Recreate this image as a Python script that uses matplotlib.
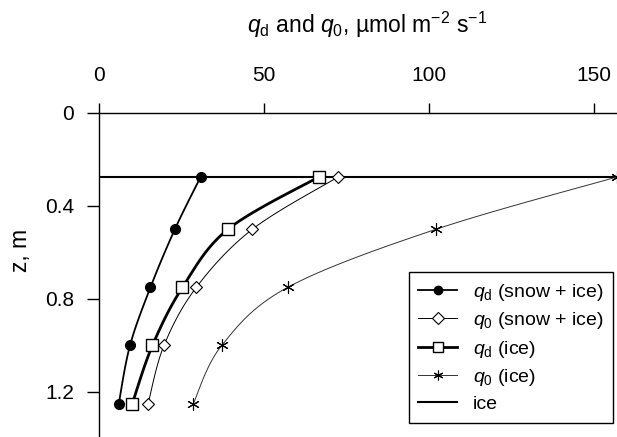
import numpy as np
import matplotlib
matplotlib.use("Agg")
import matplotlib.pyplot as plt

plt.rcParams['font.family'] = ['Liberation Sans', 'DejaVu Sans']
plt.rcParams['mathtext.fontset'] = 'custom'
plt.rcParams['mathtext.rm'] = 'Liberation Sans'
plt.rcParams['mathtext.it'] = 'Liberation Sans:italic'

# depths (m) and fluxes (umol m-2 s-1)
depth = [0.275, 0.5, 0.75, 1.0, 1.25]
qd_snow_ice = [30.8, 23.0, 15.6, 9.4, 6.0]
q0_snow_ice = [72.5, 46.5, 29.5, 19.7, 14.9]
qd_ice = [66.6, 39.1, 25.3, 16.2, 10.1]
q0_ice = [157.0, 102.2, 57.2, 37.2, 28.6]
ice_depth = 0.275

X_TICKS = [0, 50, 100, 150]
Y_TICKS = [0, 0.4, 0.8, 1.2]


def smooth(x, y, n=20):
    """Catmull-Rom curve through the points (like Excel's smoothed line).
    Data points land on indices 0, n, 2n, ..."""
    pts = np.column_stack([x, y]).astype(float)
    p = np.vstack([pts[0], pts, pts[-1]])
    t = np.linspace(0, 1, n, endpoint=False)[:, None]
    out = []
    for i in range(1, len(p) - 2):
        p0, p1, p2, p3 = p[i - 1], p[i], p[i + 1], p[i + 2]
        seg = 0.5 * (2 * p1 + (-p0 + p2) * t
                     + (2 * p0 - 5 * p1 + 4 * p2 - p3) * t ** 2
                     + (-p0 + 3 * p1 - 3 * p2 + p3) * t ** 3)
        out.append(seg)
    out.append(pts[-1:])
    c = np.vstack(out)
    return c[:, 0], c[:, 1], list(range(0, len(c), n))


fig = plt.figure(figsize=(6.17, 4.37), dpi=100)
ax = fig.add_axes([99 / 617, 0.0, 518 / 617, 324 / 437])

series = [
    (qd_snow_ice, dict(color='black', lw=1.3, marker='o', ms=7, mfc='black', mec='black'),
     r'$q_\mathrm{d}$ (snow + ice)'),
    (q0_snow_ice, dict(color='black', lw=0.7, marker='D', ms=6, mfc='white', mec='black', mew=0.8),
     r'$q_0$ (snow + ice)'),
    (qd_ice, dict(color='black', lw=2.0, marker='s', ms=9, mfc='white', mec='black', mew=1.0),
     r'$q_\mathrm{d}$ (ice)'),
    (q0_ice, dict(color='#333333', lw=0.7, marker=(6, 2, 0), ms=9, mec='black', mew=0.8),
     r'$q_0$ (ice)'),
]
for vals, style, label in series:
    sx, sy, idx = smooth(vals, depth)
    ax.plot(sx, sy, markevery=idx, label=label, zorder=3, **style)

ax.axhline(ice_depth, color='black', lw=1.5, label='ice', zorder=2)

ax.set_xlim(0, 157)
ax.set_ylim(1.394, 0)
ax.xaxis.tick_top()
ax.set_xticks(X_TICKS)
ax.set_xticklabels([str(v) for v in X_TICKS])
ax.set_yticks(Y_TICKS)
ax.set_yticklabels(['0', '0.4', '0.8', '1.2'])
ax.tick_params(axis='x', direction='out', length=7, width=1, pad=13, labelsize=15)
ax.tick_params(axis='y', direction='out', length=9, width=1, pad=9, labelsize=15)
for s in ['right', 'bottom']:
    ax.spines[s].set_visible(False)
for s in ['top', 'left']:
    ax.spines[s].set_linewidth(1)

fig.text(367 / 617, 1 - 25 / 437,
         r'$q_\mathrm{d}$ and $q_0$, µmol m$^{-2}$ s$^{-1}$',
         ha='center', va='center', fontsize=16.5)
fig.text(21 / 617, 1 - 250 / 437, 'z, m', rotation=90,
         ha='center', va='center', fontsize=16.5)

leg = ax.legend(loc='upper left', bbox_to_anchor=(0.598, 0.509), fontsize=14,
                frameon=True, fancybox=False, edgecolor='black', framealpha=1,
                handlelength=2.0, handletextpad=0.8, labelspacing=0.38,
                borderpad=0.5, borderaxespad=0)
leg.get_frame().set_linewidth(1)
for h, ms in zip(leg.legend_handles, [6, 6, 7, 7]):
    h.set_markersize(ms)

fig.savefig('out.png', dpi=100)
